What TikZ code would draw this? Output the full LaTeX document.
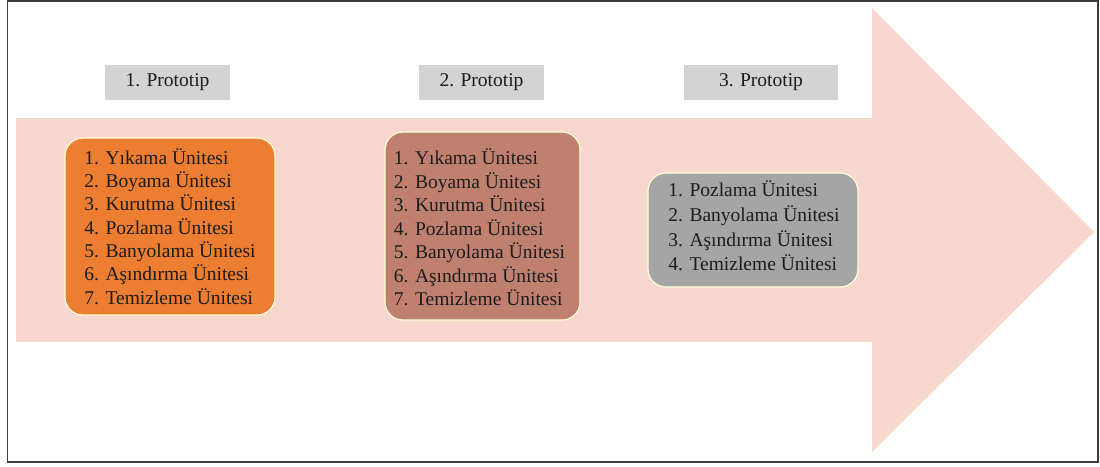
\documentclass[tikz,border=0pt]{standalone}
\usepackage{fontspec}
\setmainfont{Liberation Serif}
\definecolor{arrowfill}{RGB}{248,216,206}
\definecolor{labelgray}{RGB}{211,211,211}
\definecolor{stageone}{RGB}{237,125,49}
\definecolor{stagetwo}{RGB}{192,128,112}
\definecolor{stagethree}{RGB}{165,165,165}
\definecolor{inktext}{RGB}{28,28,28}
\definecolor{frameline}{RGB}{60,60,60}
\tikzset{
  protolabel/.style={fill=labelgray, minimum width=125pt, minimum height=35pt,
    inner sep=0pt, text=inktext, font=\fontsize{19.5}{23}\selectfont},
  unitbox/.style={rounded corners=18pt, draw=white!85!yellow, line width=1.2pt,
    inner sep=0pt},
  unitlist/.style={align=left, text=inktext, inner sep=0pt,
    font=\fontsize{19.5}{23.3}\selectfont},
}
\begin{document}
\begin{tikzpicture}[x=1pt,y=-1pt]
  \useasboundingbox (0,0) rectangle (1100,466);
  \fill[white] (0,0) rectangle (1100,466);
  % outer frame
  \draw[frameline, line width=1.3pt] (7.5,1) rectangle (1098,462);
  % big process arrow
  \fill[arrowfill] (16,118) -- (872,118) -- (872,8) -- (1094,232)
    -- (872,452) -- (872,342) -- (16,342) -- cycle;
  % prototype labels
  \node[protolabel] (p1) at (167.5,82.5) {1. Prototip};
  \node[protolabel] (p2) at (481.5,82.5) {2. Prototip};
  \node[protolabel, minimum width=154pt] (p3) at (761,82.5) {3. Prototip};
  % unit lists
  \node[unitbox, fill=stageone, minimum width=210pt, minimum height=177pt]
    (u1) at (170,226.5) {};
  \node[unitlist] (t1) at (170,226.5) {1. Yıkama Ünitesi\\2. Boyama Ünitesi\\3. Kurutma Ünitesi\\4. Pozlama Ünitesi\\5. Banyolama Ünitesi\\6. Aşındırma Ünitesi\\7. Temizleme Ünitesi};
  \node[unitbox, fill=stagetwo, minimum width=195pt, minimum height=188pt]
    (u2) at (482.5,226) {};
  \node[unitlist, font=\fontsize{19.5}{23.5}\selectfont]
    (t2) at (479.5,227.5) {1. Yıkama Ünitesi\\2. Boyama Ünitesi\\3. Kurutma Ünitesi\\4. Pozlama Ünitesi\\5. Banyolama Ünitesi\\6. Aşındırma Ünitesi\\7. Temizleme Ünitesi};
  \node[unitbox, fill=stagethree, minimum width=210pt, minimum height=114pt]
    (u3) at (753,230) {};
  \node[unitlist, font=\fontsize{19.5}{24.6}\selectfont]
    (t3) at (754,226) {1. Pozlama Ünitesi\\2. Banyolama Ünitesi\\3. Aşındırma Ünitesi\\4. Temizleme Ünitesi};
\end{tikzpicture}
\end{document}
